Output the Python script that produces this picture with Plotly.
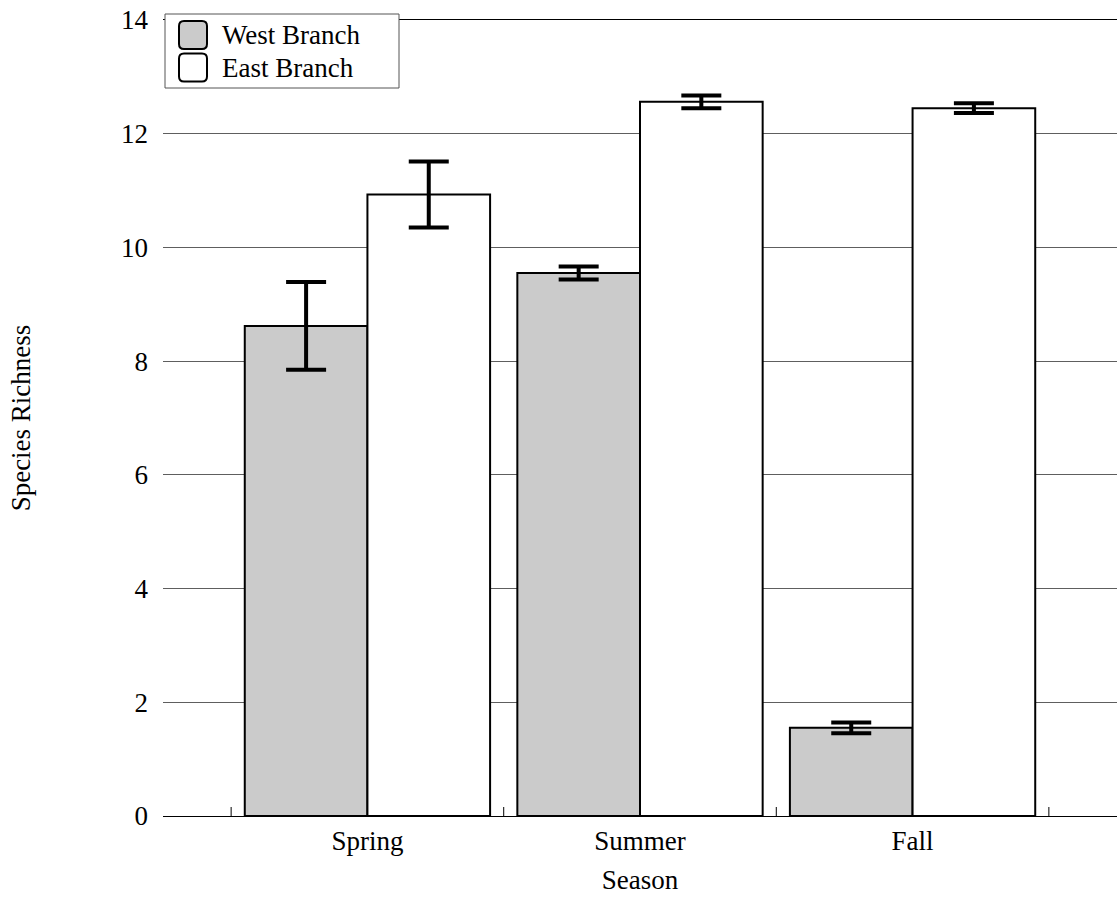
import plotly.graph_objects as go

# Seasonal species richness, two branches, mean +/- error
seasons = ["Spring", "Summer", "Fall"]
series_names = ["West Branch", "East Branch"]
west_mean = [8.62, 9.55, 1.55]
west_err = [0.77, 0.115, 0.095]
east_mean = [10.93, 12.56, 12.45]
east_err = [0.58, 0.11, 0.085]
y_ticks = [0, 2, 4, 6, 8, 10, 12, 14]

fill_colors = ["#cbcbcb", "#ffffff"]
FONT = "Liberation Serif, Times New Roman, serif"
FS = 27
TXT = dict(family=FONT, size=FS, color="black")

xs = list(range(len(seasons)))

fig = go.Figure()
for name, means, errs, col in zip(series_names, [west_mean, east_mean],
                                  [west_err, east_err], fill_colors):
    fig.add_trace(go.Bar(
        x=xs, y=means, name=name, showlegend=False,
        marker=dict(color=col, line=dict(color="black", width=2)),
        error_y=dict(type="data", array=errs, color="black",
                     thickness=4, width=20),
    ))

# crossing tick marks on the category boundaries
shapes = []
for i in range(len(seasons) + 1):
    b = xs[0] - 0.5 + i
    shapes.append(dict(type="line", xref="x", x0=b, x1=b,
                       yref="y", ysizemode="pixel", yanchor=0, y0=-7, y1=9,
                       line=dict(color="black", width=1)))

# legend box with rounded swatches (pixel offsets from plot top-left)
shapes.append(dict(type="rect", xref="paper", xsizemode="pixel", xanchor=0,
                   yref="paper", ysizemode="pixel", yanchor=1,
                   x0=2, x1=236, y0=6, y1=-68,
                   fillcolor="white", line=dict(color="#555555", width=1)))


def rounded(x0, x1, ytop, ybot, r=5):
    return (f"M{x0 + r},{ytop} L{x1 - r},{ytop} Q{x1},{ytop} {x1},{ytop - r} "
            f"L{x1},{ybot + r} Q{x1},{ybot} {x1 - r},{ybot} L{x0 + r},{ybot} "
            f"Q{x0},{ybot} {x0},{ybot + r} L{x0},{ytop - r} Q{x0},{ytop} {x0 + r},{ytop} Z")


annotations = []
for k, (name, col) in enumerate(zip(series_names, fill_colors)):
    top = -1 - 32.5 * k
    shapes.append(dict(type="path", xref="paper", xsizemode="pixel", xanchor=0,
                       yref="paper", ysizemode="pixel", yanchor=1,
                       path=rounded(16, 44, top, top - 28),
                       fillcolor=col, line=dict(color="black", width=2)))
    annotations.append(dict(text=name, xref="paper", x=0, xshift=57,
                            yref="paper", y=1, yshift=-15 - 32.5 * k,
                            xanchor="left", yanchor="middle", showarrow=False,
                            font=TXT))

fig.update_layout(
    width=1117, height=898,
    margin=dict(l=163, r=0, t=20, b=82),
    paper_bgcolor="white", plot_bgcolor="white",
    barmode="group", bargap=0.1, bargroupgap=0,
    font=TXT,
    shapes=shapes, annotations=annotations,
    xaxis=dict(range=[-0.75, 2.75], tickvals=xs, ticktext=seasons, ticks="",
               tickfont=TXT,
               showline=True, linecolor="black", linewidth=1.2, mirror=True,
               showgrid=False, zeroline=False,
               title=dict(text="Season", standoff=15, font=TXT)),
    yaxis=dict(range=[0, 14], tickvals=y_ticks, ticks="", tickfont=TXT,
               ticklabelstandoff=14,
               showgrid=True, gridcolor="#5e5e5e", gridwidth=1,
               showline=False, zeroline=False,
               title=dict(text="Species Richness", standoff=82, font=TXT)),
)

fig.write_html("out.html")
